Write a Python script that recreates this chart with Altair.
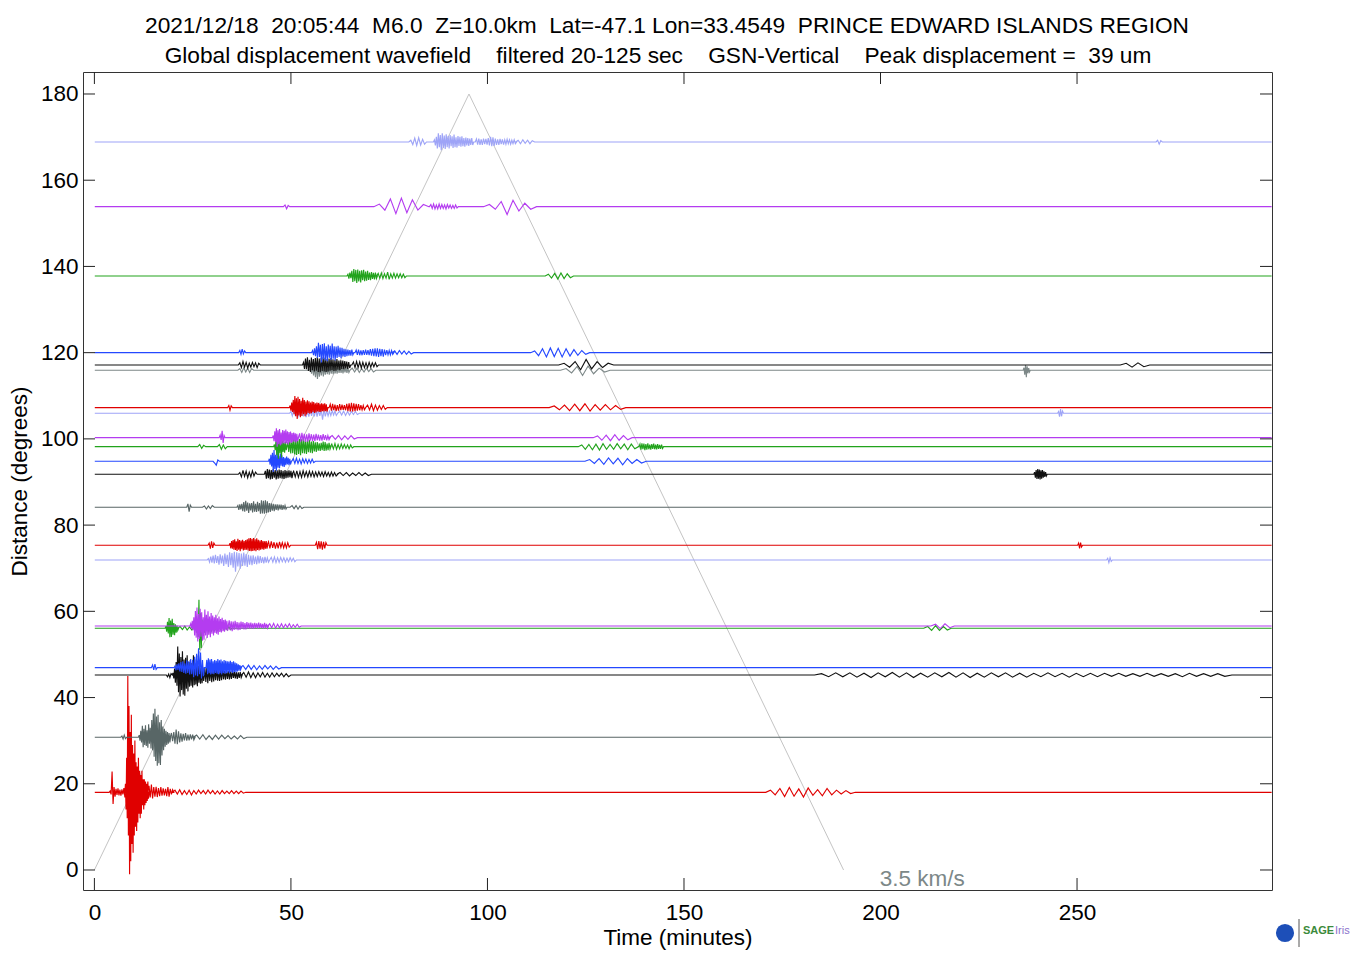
import altair as alt
import pandas as pd

# ---------------- data ----------------
TITLE_1 = "2021/12/18  20:05:44  M6.0  Z=10.0km  Lat=-47.1 Lon=33.4549  PRINCE EDWARD ISLANDS REGION"
TITLE_2 = "Global displacement wavefield    filtered 20-125 sec    GSN-Vertical    Peak displacement =  39 um"
X_TITLE = "Time (minutes)"
Y_TITLE = "Distance (degrees)"
X_TICKS = [0, 50, 100, 150, 200, 250]
X_TICKS_BOTTOM = [0, 50, 100, 150, 250]
Y_TICKS = [0, 20, 40, 60, 80, 100, 120, 140, 160, 180]
SPEED_T = [0, 95.3, 190.6]
SPEED_D = [0, 180, 0]
SPEED_LABEL = "3.5 km/s"
SPEED_LABEL_T = [210.6]
SPEED_LABEL_D = [-2.1]

T_START = 0.1
T_END = 299.5

NAMES = ["r18", "g31", "k45", "b47", "g56", "m57", "l72", "r75", "g84", "k92", "b95",
         "G98", "m100", "l106", "r107", "g116", "k117", "b120", "G138", "m154", "l169"]
DIST = [18.02, 30.78, 45.23, 46.93, 56.07, 56.6, 71.91, 75.32, 84.13, 91.79, 94.8,
        98.19, 100.28, 105.94, 107.24, 115.91, 117.14, 120.0, 137.79, 153.86, 168.87]
COLORS = ["#e00000", "#586666", "#111111", "#2448ff", "#22a31c", "#b43cf0", "#9ea4f7",
          "#e00000", "#586666", "#111111", "#2448ff", "#22a31c", "#b43cf0", "#9ea4f7",
          "#e00000", "#7d8888", "#111111", "#2448ff", "#22a31c", "#b43cf0", "#9ea4f7"]

# wiggle packets per trace: [start minute, sample step, amplitudes in degrees]
W01 = [[4.0, 0.25, [0.3, -0.5, 4.8, -2.7, 1.2, -1.0, 0.8, -0.6, 0.9, -0.7, 0.6, -0.8, 0.7, -0.5, 1.0, -1.2]],
       [7.9, 0.15, [2, -4, 8, -6, 27, -10, 20, -19, 14, -16, 18, -12, 11, -14, 9, -10, 12, -8, 7, -9,
                    6, -7, 8, -5, 5, -6, 4, -5, 5, -3, 3, -4, 3, -3, 2.5, -2.5, 2, -2, 2.5, -1.5]],
       [13.9, 0.3, [1.5, -1.2, 1.8, -1.4, 1.2, -1.0, 1.3, -1.1, 1.0, -0.9, 1.2, -0.8, 0.9, -0.7, 0.8, -0.9,
                    1.2, -1.0, 0.8, -0.5, 0.6]],
       [20.5, 0.6, [0.5, -0.4, 0.6, -0.5, 0.4, -0.5, 0.5, -0.6, 0.4, -0.4, 0.5, -0.3, 0.4, -0.4, 0.5, -0.3,
                    0.4, -0.4, 0.3, -0.4, 0.4, -0.3, 0.3, -0.3, 0.4, -0.3, 0.3, -0.3, 0.3, -0.2]],
       [172.0, 1.2, [0.5, -0.6, 0.9, -1.0, 1.1, -0.9, 0.8, -1.1, 1.0, -0.7, 0.6, -0.8, 0.9, -0.6, 0.5, -0.4,
                     0.4, -0.3]]]
W02 = [[7.0, 0.3, [0.3, -0.4, 0.5, -0.3]],
       [11.4, 0.2, [0.5, -0.8, 1.5, -1.2, 2.7, -2.3, 2.0, -1.8, 2.8, -2.0, 1.6, -2.4, 3.0, -1.5, 2.2, -2.6,
                    4.0, -3.0, 5.5, -4.5, 6.6, -5.5, 4.8, -6.6, 5.2, -6.0, 3.5, -6.4, 4.0, -4.2, 2.5, -3.0,
                    2.0, -2.2, 1.5, -1.8, 1.2, -1.5, 1.0, -1.2]],
       [19.6, 0.3, [1.0, -0.9, 1.2, -1.5, 1.8, -1.6, 1.4, -1.2, 0.9, -1.0, 0.8, -0.7, 1.0, -0.8, 0.6, -0.7,
                    0.7, -0.5, 0.6, -0.6]],
       [26.0, 0.8, [0.5, -0.4, 0.6, -0.5, 0.4, -0.5, 0.5, -0.4, 0.5, -0.3, 0.4, -0.4, 0.3, -0.4, 0.4, -0.3]]]
W03 = [[18.6, 0.3, [-0.4, 0.2, -0.6, 0.3]],
       [20.0, 0.2, [0.5, -0.8, 1.5, -1.8, 3.0, -2.5, 6.6, -4.0, 5.0, -5.0, 4.2, -3.5, 5.5, -4.5, 3.6, -4.8,
                    4.0, -3.2, 4.6, -3.8, 3.0, -2.7, 3.5, -2.5, 2.8, -2.9, 4.6, -2.4, 2.5, -2.2, 2.0, -2.6,
                    2.2, -1.8, 1.9, -2.0, 1.6, -1.9, 1.8, -1.4]],
       [28.1, 0.25, [1.8, -1.6, 1.7, -1.9, 1.5, -1.4, 1.6, -1.7, 1.3, -1.5, 1.4, -1.2, 1.5, -1.3, 1.2, -1.4,
                     1.1, -1.2, 1.3, -1.0, 1.0, -1.1, 1.2, -0.9, 0.9, -1.0, 0.8, -0.9, 1.0, -0.7, 0.8, -0.8,
                     0.7, -0.9, 0.6, -0.7, 0.7, -0.6]],
       [38.0, 0.6, [0.6, -0.5, 0.7, -0.6, 0.5, -0.6, 0.5, -0.4, 0.6, -0.5, 0.4, -0.5, 0.5, -0.4, 0.4, -0.3,
                    0.4, -0.4, 0.3, -0.4]],
       [185.0, 1.8, [0.3, -0.4, 0.5, -0.4, 0.5, -0.5, 0.4, -0.6, 0.5, -0.4, 0.6, -0.5, 0.5, -0.6, 0.4, -0.5,
                     0.5, -0.4, 0.6, -0.5, 0.5, -0.6, 0.4, -0.5, 0.5, -0.4, 0.5, -0.5, 0.4, -0.5, 0.4, -0.4,
                     0.5, -0.4, 0.4, -0.5, 0.4, -0.4, 0.4, -0.4, 0.4, -0.3, 0.4, -0.3, 0.3, -0.3, 0.4, -0.3,
                     0.3, -0.3, 0.3, -0.4, 0.4, -0.3, 0.3, -0.3, 0.3, -0.3]]]
W04 = [[14.8, 0.3, [0.6, -0.5, 0.8, -0.4]],
       [20.5, 0.25, [0.4, -0.6, 0.8, -0.5, 1.0, -0.9, 1.3, -1.0, 1.5, -1.2, 1.0, -1.4, 1.7, -1.2, 1.5, -1.6,
                     2.0, -1.5, 1.8, -2.2, 2.5, -1.8, 3.2, -2.0, 4.5, -1.5, 3.5, -2.5, 1.8, -2.0]],
       [28.6, 0.2, [1.8, -1.5, 2.2, -1.3, 1.9, -1.6, 2.0, -1.4, 1.5, -1.5, 1.8, -1.2, 1.6, -1.4, 2.0, -1.5,
                    1.7, -1.3, 1.9, -1.6, 1.5, -1.2, 1.8, -1.4, 1.6, -1.3, 1.5, -1.1, 1.4, -1.2, 1.6, -1.0,
                    1.3, -1.2, 1.5, -1.0, 1.2, -1.1, 1.0, -0.9, 0.8, -0.7, 0.6, -0.5]],
       [37.8, 0.7, [0.5, -0.4, 0.6, -0.4, 0.5, -0.5, 0.4, -0.4, 0.5, -0.3, 0.4, -0.4, 0.3, -0.3]]]
W05 = [[18.2, 0.2, [0.5, -0.8, 1.5, -1.2, 2.4, -2.1, 1.8, -2.0, 2.2, -1.5, 1.2, -1.6, 0.9, -1.0, 0.6, -0.5]],
       [21.8, 0.6, [0.4, -0.3, 0.5, -0.4, 0.3, -0.4, 0.4]],
       [25.8, 0.2, [0.8, -1.0, 1.5, -2.0, 6.6, -5.0, 3.5, -4.6, 2.0, -1.8, 1.2, -1.0]],
       [28.6, 0.4, [0.6, -0.7, 0.5, -0.6, 0.7, -0.5, 0.4, -0.5, 0.5, -0.4, 0.5, -0.4, 0.3, -0.4, 0.4, -0.3]],
       [212.0, 1.0, [0.4, -0.5, 0.6, -0.5, 0.4, -0.4]]]
W06 = [[24.5, 0.2, [0.5, -0.6, 1.2, -1.0, 2.0, -2.2, 3.5, -2.7, 4.3, -3.6, 2.8, -3.0, 4.0, -2.5, 3.2, -3.4,
                    2.0, -3.2, 3.8, -2.2, 2.6, -2.8, 3.4, -2.0, 2.2, -2.6, 3.0, -1.8, 2.4, -2.2, 2.0, -1.6,
                    2.6, -1.8, 1.8, -2.0, 2.2, -1.4, 1.6, -1.5, 1.9, -1.2, 1.4, -1.3, 1.5, -1.0, 1.2, -1.1]],
       [34.3, 0.25, [1.3, -1.0, 1.1, -1.2, 1.0, -0.9, 1.2, -0.8, 0.9, -1.0, 0.8, -0.9, 1.0, -0.7, 0.9, -0.8,
                     0.7, -0.8, 0.9, -0.6, 0.7, -0.7, 0.8, -0.6, 0.6, -0.7, 0.7, -0.5, 0.6, -0.6, 0.8, -0.5,
                     0.6, -0.5, 0.5, -0.6, 0.7, -0.5, 0.5, -0.5]],
       [44.6, 0.5, [0.5, -0.4, 0.6, -0.5, 0.4, -0.4, 0.5, -0.4, 0.4, -0.3, 0.5, -0.4, 0.3, -0.3, 0.4, -0.3]],
       [214.0, 1.2, [0.4, -0.6, 0.5, -0.4]]]
W07 = [[29.0, 0.3, [0.3, -0.5, 0.8, -0.6, 1.0, -0.8, 1.2, -0.7, 0.9, -1.1, 1.3, -0.8, 1.0, -1.4, 1.5, -1.0,
                    1.2, -1.6, 1.8, -1.2, 1.6, -1.8, 1.9, -2.7, 1.8, -1.5, 1.6, -2.0, 1.5, -1.4, 1.7, -1.3,
                    1.4, -1.6, 1.2, -1.1, 1.0, -1.2, 1.1, -0.9, 0.8, -1.0, 1.0, -0.8, 0.9, -0.7, 0.6, -0.8,
                    0.7, -0.6, 0.5, -0.5]],
       [45.0, 0.4, [0.6, -0.5, 0.7, -0.6, 0.5, -0.5, 0.6, -0.4, 0.5, -0.5, 0.4, -0.4, 0.5, -0.3, 0.4, -0.4]],
       [257.8, 0.3, [0.4, -0.6, 0.5, -0.3]]]
W08 = [[29.2, 0.3, [0.5, -0.8, 0.9, -0.6, 0.5]],
       [34.5, 0.2, [0.5, -0.7, 1.0, -0.8, 1.2, -1.0, 1.4, -1.1, 0.9, -1.3, 1.5, -1.0, 1.2, -1.4, 1.1, -0.9,
                    1.3, -1.2, 1.0, -1.1, 1.2, -1.0, 1.4, -1.2, 1.6, -1.3, 1.7, -1.4, 1.5, -1.3, 1.7, -1.2,
                    1.4, -1.4, 1.6, -1.1, 1.3, -1.2, 1.1, -1.0, 1.2, -0.9, 1.0, -1.0, 0.9, -0.8, 1.0, -0.8]],
       [44.3, 0.35, [0.8, -0.7, 0.9, -0.6, 0.7, -0.8, 0.6, -0.7, 0.8, -0.5, 0.6, -0.6, 0.5, -0.6, 0.6, -0.4]],
       [56.5, 0.3, [0.7, -0.9, 1.0, -0.8, 0.9, -1.0, 0.8, -0.7, 0.6]],
       [250.4, 0.25, [0.5, -0.7, 0.6, -0.4]]]
W09 = [[23.8, 0.3, [0.8, -1.0, 0.5]],
       [28.0, 0.5, [0.3, -0.4, 0.3, -0.3, 0.4]],
       [36.5, 0.25, [0.4, -0.6, 0.7, -0.5, 0.8, -0.9, 1.2, -1.0, 1.5, -0.8, 1.1, -1.3, 0.9, -0.7, 1.0, -1.2,
                     1.4, -1.0, 0.8, -1.1, 1.3, -0.9, 1.0, -1.5, 1.6, -1.4, 1.5, -1.5, 1.6, -1.3, 1.4, -1.2,
                     1.0, -1.1, 0.9, -0.8, 0.8, -0.9, 0.7, -0.6, 0.7, -0.7, 0.6, -0.5, 0.6, -0.6, 0.5, -0.5,
                     0.4, -0.4]],
       [50.3, 0.5, [0.4, -0.3, 0.4, -0.4, 0.3, -0.3]]]
W10 = [[37.0, 0.4, [0.4, -0.6, 0.9, -0.5, 0.7, -0.8, 0.5, -0.6, 0.8, -0.4, 0.5]],
       [43.5, 0.25, [0.8, -1.0, 1.2, -0.9, 1.1, -1.2, 1.0, -1.1, 1.2, -0.8, 1.0, -1.2, 0.9, -1.0, 1.1, -0.9,
                     1.0, -1.0, 0.8, -1.1, 1.0, -0.9, 0.8, -0.8, 0.9, -0.7, 0.8, -0.9]],
       [50.7, 0.4, [0.7, -0.6, 0.8, -0.7, 0.6, -0.7, 0.8, -0.5, 0.6, -0.6, 0.7, -0.5, 0.6, -0.6, 0.5, -0.5,
                    0.6, -0.4, 0.5, -0.5, 0.6, -0.4, 0.4, -0.5, 0.5, -0.4, 0.4, -0.4]],
       [62.5, 0.8, [0.4, -0.3, 0.4, -0.4, 0.3, -0.3, 0.4, -0.3, 0.3, -0.3]],
       [239.2, 0.2, [0.5, -0.8, 1.0, -1.1, 1.2, -1.0, 1.1, -1.2, 0.9, -1.0, 1.0, -0.8, 0.7, -0.6, 0.5, -0.4]]]
W11 = [[30.6, 0.4, [-0.4, -0.9, 0.3]],
       [44.5, 0.2, [0.6, -0.8, 1.5, -1.2, 2.0, -2.5, 2.6, -1.8, 1.5, -2.2, 2.2, -1.5, 1.2, -1.6, 1.8, -1.0,
                    1.4, -1.2, 1.0, -1.3, 0.8, -0.9, 1.1, -0.7, 0.8, -0.9, 0.6, -0.7]],
       [50.6, 0.4, [0.6, -0.5, 0.7, -0.5, 0.5, -0.6, 0.6, -0.4, 0.5, -0.5, 0.4, -0.4, 0.5, -0.3]],
       [126.0, 1.2, [0.4, -0.5, 0.6, -0.7, 0.8, -0.6, 0.7, -0.8, 0.6, -0.5, 0.4, -0.4]]]
W12 = [[26.8, 0.5, [0.5, -0.4, 0.3]],
       [31.8, 0.5, [0.5, -0.6, 0.4, -0.5]],
       [45.8, 0.2, [0.5, -0.8, 1.5, -2.0, 2.5, -2.8, 2.0, -1.5, 1.8, -2.5, 1.5, -1.2, 1.0, -1.4, 1.2, -0.8]],
       [49.2, 0.25, [1.0, -1.2, 1.4, -1.6, 1.8, -1.5, 1.9, -1.8, 1.6, -1.9, 2.0, -1.7, 1.8, -2.0, 1.7, -1.5,
                     1.9, -1.6, 1.4, -1.7, 1.5, -1.3, 1.6, -1.4, 1.2, -1.5, 1.3, -1.1, 1.0, -1.2, 1.1, -0.9,
                     0.8, -1.0, 0.9, -0.8, 1.2, -1.0, 1.1, -0.9, 0.7, -0.8, 0.9, -0.6]],
       [60.4, 0.4, [0.6, -0.5, 0.7, -0.6, 0.5, -0.5, 0.6, -0.4, 0.5, -0.4, 0.4, -0.5, 0.4, -0.3]],
       [124.0, 0.9, [0.4, -0.6, 0.5, -0.7, 0.6, -0.8, 0.7, -0.6, 0.5, -0.6, 0.7, -0.5, 0.6, -0.7, 0.6, -0.5]],
       [138.8, 0.25, [0.6, -0.7, 0.8, -0.6, 0.7, -0.8, 0.6, -0.7, 0.8, -0.6, 0.5, -0.7, 0.6, -0.5, 0.7, -0.6,
                      0.5, -0.6, 0.6, -0.5, 0.4, -0.5, 0.5, -0.4]]]
W13 = [[32.0, 0.25, [0.6, -0.5, 1.6, -1.2, 0.5]],
       [45.5, 0.2, [0.5, -0.8, 1.5, -1.0, 2.2, -2.1, 1.7, -1.5, 2.0, -1.8, 1.2, -1.6, 1.8, -1.2, 1.6, -1.4,
                    1.9, -1.3, 1.5, -1.6, 1.3, -1.1, 1.4, -1.2, 1.1, -1.0, 1.2, -0.9, 1.0, -1.1, 0.9, -0.8]],
       [52.2, 0.3, [1.0, -0.9, 1.1, -0.8, 0.9, -1.0, 0.8, -0.9, 1.0, -0.7, 0.8, -0.8, 0.7, -0.8, 0.9, -0.6,
                    0.7, -0.7, 0.6, -0.7, 0.8, -0.5, 0.6, -0.6, 0.5, -0.5]],
       [60.5, 0.8, [0.5, -0.4, 0.5, -0.5, 0.4, -0.4, 0.5, -0.3]],
       [128.0, 1.1, [0.4, -0.6, 0.6, -0.7, 0.7, -0.6, 0.5, -0.5]]]
W14 = [[50.0, 0.35, [0.4, -0.6, 0.8, -0.5, 0.9, -1.0, 0.7, -0.8, 1.0, -0.7, 0.8, -0.9, 0.6, -0.8, 0.9, -0.6,
                     0.8, -0.7, 1.0, -0.8, 0.7, -0.6, 0.8, -1.5, 0.9, -0.7, 0.6, -0.6, 0.5, -0.5, 0.6, -0.4,
                     0.5, -0.5]],
       [62.4, 0.5, [0.5, -0.4, 0.5, -0.5, 0.4, -0.4, 0.4, -0.3, 0.4, -0.3]],
       [245.3, 0.25, [0.4, -0.8, 1.0, -0.7, 0.5]]]
W15 = [[34.2, 0.3, [0.5, -0.6, 0.4]],
       [49.8, 0.2, [0.5, -0.7, 1.2, -1.0, 1.8, -1.5, 2.7, -2.0, 2.2, -2.6, 2.5, -1.8, 2.0, -2.2, 1.6, -1.9,
                    2.3, -1.5, 1.8, -2.0, 1.4, -1.6, 1.7, -1.2, 1.5, -1.4, 1.2, -1.3, 1.4, -1.0, 1.3, -1.2,
                    1.0, -1.1, 1.2, -0.9, 1.1, -1.0, 0.9, -1.0, 1.0, -0.8, 0.9, -0.9, 1.0, -0.8, 0.8, -0.9]],
       [60.0, 0.3, [0.8, -0.7, 0.9, -0.6, 0.7, -0.8, 0.6, -0.7, 0.8, -0.6, 0.7, -0.5, 0.6, -0.6, 0.9, -0.8,
                    1.0, -0.9, 1.1, -0.9, 1.0, -0.8, 0.9, -0.7, 0.8, -0.6, 0.6, -0.5, 0.5, -0.5]],
       [69.5, 0.5, [0.6, -0.5, 0.8, -0.7, 0.6, -0.6, 0.5, -0.4, 0.5, -0.4]],
       [117.0, 1.3, [0.4, -0.5, 0.6, -0.7, 0.8, -0.7, 0.9, -0.8, 0.7, -0.6, 0.7, -0.5, 0.5, -0.4]]]
W16 = [[37.0, 0.5, [0.4, -0.5, 0.6, -0.4, 0.5, -0.5, 0.4]],
       [55.0, 0.25, [0.5, -0.8, 1.0, -1.2, 0.8, -1.6, 1.2, -2.0, 1.0, -1.5, 0.9, -1.2, 1.1, -1.4, 0.8, -1.0,
                     1.0, -0.9, 0.8, -1.0, 0.9, -0.8, 0.7, -0.9, 0.8, -0.7, 0.6, -0.8, 0.7, -0.6, 0.8, -0.6,
                     0.6, -0.7, 0.7, -0.5, 0.6, -0.6, 0.5, -0.5]],
       [65.6, 0.6, [0.5, -0.4, 0.5, -0.5, 0.4, -0.4, 0.5, -0.3, 0.4, -0.4]],
       [120.0, 1.4, [0.4, -0.6, 0.9, -1.2, 1.0, -0.8, 0.5, -0.4]],
       [236.5, 0.2, [0.6, -1.0, 1.2, -1.6, 0.9, -0.7, 0.5, -0.4]]]
W17 = [[37.0, 0.4, [0.5, -0.6, 0.8, -0.5, 0.6, -0.7, 0.4, -0.5, 0.6, -0.4, 0.5, -0.6, 0.4]],
       [53.2, 0.25, [0.6, -0.9, 1.5, -1.0, 1.8, -1.4, 1.2, -1.6, 1.7, -1.2, 1.4, -1.5, 1.6, -1.3, 1.8, -1.6,
                     1.5, -1.7, 1.6, -1.4, 1.8, -1.5, 1.7, -1.6, 1.4, -1.5, 1.5, -1.3, 1.6, -1.2, 1.3, -1.4,
                     1.2, -1.3, 1.4, -1.1, 1.0, -1.2, 1.1, -0.9, 1.0, -1.0, 0.9, -0.8, 0.8, -0.9, 0.7, -0.7]],
       [65.9, 0.4, [0.7, -0.6, 0.8, -0.6, 0.7, -0.7, 0.6, -0.6, 0.5, -0.6, 0.6, -0.5, 0.5, -0.4, 0.5, -0.4]],
       [119.5, 1.4, [0.4, -0.5, 0.8, -1.1, 1.3, -0.9, 0.8, -0.6, 0.4]],
       [262.5, 1.5, [0.4, -0.5, 0.5, -0.4]]]
W18 = [[37.0, 0.3, [0.5, -0.4, 0.8, -0.3, 0.4]],
       [55.5, 0.25, [0.5, -0.6, 1.0, -0.8, 1.5, -1.2, 2.3, -1.0, 1.8, -2.3, 2.0, -1.5, 2.2, -1.8, 1.5, -2.0,
                     1.9, -1.2, 1.6, -1.7, 2.1, -1.4, 1.5, -1.8, 1.4, -1.2, 1.6, -1.0, 1.2, -1.3, 1.1, -0.9,
                     0.9, -1.0, 0.8, -0.8, 0.7, -0.7, 0.6, -0.7, 0.7, -0.5]],
       [66.6, 0.3, [0.6, -0.5, 0.7, -0.6, 0.5, -0.6, 0.6, -0.5, 0.7, -0.5, 0.6, -0.6, 0.8, -0.7, 0.9, -0.8,
                    1.0, -0.9, 1.0, -1.0, 0.9, -0.8, 0.8, -0.9, 0.7, -0.6, 0.6, -0.5, 0.5, -0.5, 0.5, -0.4]],
       [76.4, 0.6, [0.4, -0.4, 0.5, -0.3, 0.4, -0.4, 0.3, -0.3]],
       [112.0, 1.0, [0.4, -0.7, 0.9, -1.0, 1.1, -0.9, 1.0, -1.0, 0.9, -0.8, 0.7, -0.6, 0.5, -0.4]]]
W19 = [[64.5, 0.25, [0.4, -0.6, 0.8, -0.5, 1.2, -1.4, 1.6, -1.2, 1.4, -1.6, 1.5, -1.3, 1.2, -1.5, 1.3, -1.0,
                     1.4, -1.2, 1.0, -1.1, 1.2, -0.9, 0.8, -1.0, 0.9, -0.7, 0.7, -0.8, 0.8, -0.6]],
       [72.2, 0.4, [0.6, -0.5, 0.7, -0.6, 0.5, -0.5, 0.9, -0.8, 0.5, -0.5, 0.6, -0.5, 0.5, -0.4, 0.5, -0.4,
                    0.4, -0.4]],
       [115.5, 0.8, [0.4, -0.5, 0.6, -0.7, 0.7, -0.6, 0.5, -0.4]]]
W20 = [[48.5, 0.4, [0.4, -0.5, 0.3]],
       [72.5, 1.4, [0.6, -0.8, 1.8, -1.6, 2.0, -1.4, 1.6, -0.8, 0.5]],
       [85.6, 0.35, [0.5, -0.4, 0.6, -0.5, 0.4, -0.5, 0.6, -0.4, 0.5, -0.4, 0.4, -0.5, 0.5, -0.3, 0.4, -0.4,
                     0.3, -0.4, 0.4, -0.3]],
       [100.5, 1.5, [0.5, -0.6, 1.2, -1.8, 1.5, -1.0, 0.8, -0.6]]]
W21 = [[80.5, 0.5, [0.4, -0.6, 0.9, -0.8, 1.0, -0.7, 0.6, -0.5]],
       [86.5, 0.25, [0.5, -0.8, 1.2, -1.5, 2.0, -1.2, 1.6, -1.9, 2.0, -1.4, 1.5, -1.6, 1.8, -1.2, 1.4, -1.5,
                     1.6, -1.0, 1.3, -1.4, 1.7, -1.2, 1.1, -1.3, 1.4, -0.9, 1.2, -1.1, 1.3, -1.0, 0.9, -1.1,
                     1.0, -0.8, 0.9, -0.9, 0.8, -0.7, 0.9, -0.7]],
       [97.2, 0.3, [0.7, -0.6, 0.8, -0.7, 0.6, -0.7, 0.8, -0.5, 0.7, -0.6, 0.9, -0.8, 1.2, -1.0, 1.1, -0.9,
                    0.8, -0.7, 0.6, -0.7, 0.7, -0.5, 0.6, -0.6, 0.5, -0.5, 0.6, -0.4, 0.5, -0.5, 0.4, -0.4,
                    0.5, -0.4]],
       [107.8, 0.6, [0.4, -0.4, 0.5, -0.3, 0.4, -0.4, 0.3]],
       [270.5, 0.4, [0.4, -0.5, 0.3]]]

WIGGLES = [W01, W02, W03, W04, W05, W06, W07, W08, W09, W10, W11,
           W12, W13, W14, W15, W16, W17, W18, W19, W20, W21]

# ---------------- build the table ----------------
rows = []
for name, dist, packets in zip(NAMES, DIST, WIGGLES):
    seq = [(T_START, 0.0)]
    for t0, dt, amps in sorted(packets, key=lambda p: p[0]):
        seq.append((t0 - dt, 0.0))
        for i, a in enumerate(amps):
            seq.append((t0 + i * dt, a))
        seq.append((t0 + len(amps) * dt, 0.0))
    seq.append((T_END, 0.0))
    for k, (t, a) in enumerate(seq):
        rows.append({"trace": name, "t": t, "y": dist + a, "i": k})
df = pd.DataFrame(rows)

W, H = 1189, 818
FONT = "Liberation Sans"
FS = 22.5
xs = alt.Scale(domain=[-2.9, 299.6], nice=False, zero=False)
ys = alt.Scale(domain=[-4.64, 185.1], nice=False, zero=False)
x_axis = alt.Axis(values=X_TICKS, title=X_TITLE, grid=False, domain=False, ticks=False,
                  labelPadding=11, titlePadding=3, labelFontSize=FS, titleFontSize=FS,
                  labelFont=FONT, titleFont=FONT, labelColor="#000", titleColor="#000",
                  titleFontWeight="normal")
y_axis = alt.Axis(values=Y_TICKS, title=Y_TITLE, grid=False, domain=False, ticks=False,
                  labelPadding=5, titlePadding=9, labelFontSize=FS, titleFontSize=FS,
                  labelFont=FONT, titleFont=FONT, labelColor="#000", titleColor="#000",
                  titleFontWeight="normal")
X = alt.X("t:Q", scale=xs, axis=x_axis)
Y = alt.Y("y:Q", scale=ys, axis=y_axis)

speed = alt.Chart(pd.DataFrame({"t": SPEED_T, "y": SPEED_D, "i": [0, 1, 2]})).mark_line(
    color="#c4c4c4", strokeWidth=1).encode(x=X, y=Y, order="i:Q")

traces = alt.Chart(df).mark_line(strokeWidth=1.15, clip=True).encode(
    x=X, y=Y,
    color=alt.Color("trace:N", scale=alt.Scale(domain=NAMES, range=COLORS), legend=None),
    detail="trace:N", order="i:Q")

speed_lbl = alt.Chart(pd.DataFrame({"t": SPEED_LABEL_T, "y": SPEED_LABEL_D, "txt": [SPEED_LABEL]})).mark_text(
    font=FONT, fontSize=FS, color="#7c8888", align="center", baseline="middle").encode(x=X, y=Y, text="txt:N")

tick_col = "#222222"
t_bottom = alt.Chart(pd.DataFrame({"t": X_TICKS_BOTTOM})).mark_rule(color=tick_col).encode(
    x=X, y=alt.value(H), y2=alt.value(H - 12))
t_top = alt.Chart(pd.DataFrame({"t": X_TICKS})).mark_rule(color=tick_col).encode(
    x=X, y=alt.value(0), y2=alt.value(12))
t_left = alt.Chart(pd.DataFrame({"y": Y_TICKS})).mark_rule(color=tick_col).encode(
    y=Y, x=alt.value(0), x2=alt.value(12))
t_right = alt.Chart(pd.DataFrame({"y": Y_TICKS})).mark_rule(color=tick_col).encode(
    y=Y, x=alt.value(W), x2=alt.value(W - 12))

nb = lambda s: s.replace(" ", "\u00a0")
title1 = alt.Chart(pd.DataFrame({"txt": [nb(TITLE_1)]})).mark_text(
    font=FONT, fontSize=22.7, color="#000", align="center", baseline="middle").encode(
    x=alt.value(584), y=alt.value(-46), text="txt:N")
title2 = alt.Chart(pd.DataFrame({"txt": [nb(TITLE_2)]})).mark_text(
    font=FONT, fontSize=22.7, color="#000", align="center", baseline="middle").encode(
    x=alt.value(575), y=alt.value(-16), text="txt:N")

logo_dot = alt.Chart(pd.DataFrame({"k": [1]})).mark_point(
    filled=True, color="#1d4fb8", size=330, opacity=1).encode(x=alt.value(1202), y=alt.value(861))
logo_sage = alt.Chart(pd.DataFrame({"txt": ["SAGE"]})).mark_text(
    font=FONT, fontSize=11, fontWeight="bold", color="#3b8a3b", align="left", baseline="middle").encode(
    x=alt.value(1220), y=alt.value(859), text="txt:N")
logo_iris = alt.Chart(pd.DataFrame({"txt": ["Iris"]})).mark_text(
    font=FONT, fontSize=11, color="#8a72cc", align="left", baseline="middle").encode(
    x=alt.value(1252), y=alt.value(859), text="txt:N")
logo_bar = alt.Chart(pd.DataFrame({"k": [1]})).mark_rule(color="#555", strokeWidth=1).encode(
    x=alt.value(1216), y=alt.value(847), y2=alt.value(875))

chart = alt.layer(
    speed, traces, speed_lbl, t_bottom, t_top, t_left, t_right,
    title1, title2, logo_dot, logo_bar, logo_sage, logo_iris
).properties(
    width=W, height=H,
    autosize=alt.AutoSizeParams(type="none"),
    padding={"left": 75, "top": 64, "right": 82, "bottom": 64},
    background="white",
).configure_view(stroke="#333333", strokeWidth=1)

chart.save("out.html", embed_options={"renderer": "svg", "actions": False})
